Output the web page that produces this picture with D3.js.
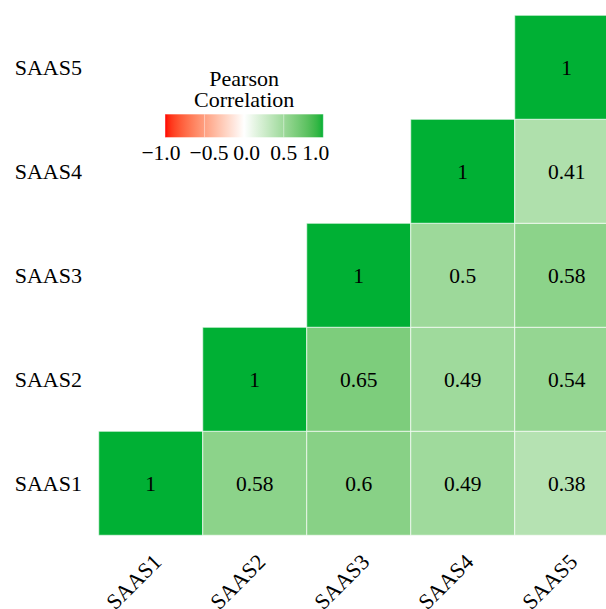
<!DOCTYPE html>
<html>
<head>
<meta charset="utf-8">
<script src="https://cdn.jsdelivr.net/npm/d3@7"></script>
</head>
<body style="margin:0">
<svg id="chart" width="606" height="609" font-family="Liberation Serif"></svg>
<script>
// ---- data ----
const variables = ["SAAS1", "SAAS2", "SAAS3", "SAAS4", "SAAS5"];
// lower-triangle correlations: each row lists values for columns SAAS1..SAAS5 (null = not shown)
const rowSAAS1 = [1, 0.58, 0.6, 0.49, 0.38];
const rowSAAS2 = [null, 1, 0.65, 0.49, 0.54];
const rowSAAS3 = [null, null, 1, 0.5, 0.58];
const rowSAAS4 = [null, null, null, 1, 0.41];
const rowSAAS5 = [null, null, null, null, 1];
const legendTicks = [-1.0, -0.5, 0.0, 0.5, 1.0];
const legendTitle = ["Pearson", "Correlation"];

const rows = [rowSAAS1, rowSAAS2, rowSAAS3, rowSAAS4, rowSAAS5];
const cells = [];
rows.forEach((r, i) => r.forEach((v, j) => {
  if (v !== null) cells.push({ row: variables[i], col: variables[j], value: v });
}));

// ---- scales ----
const svg = d3.select("#chart");
const x = d3.scaleBand().domain(variables).range([98.7, 618.7]);
const y = d3.scaleBand().domain(variables.slice().reverse()).range([15.3, 535.3]);
const color = d3.scaleLinear()
  .domain([-1, 0, 1])
  .range(["#ff0000", "#ffffff", "#00b034"])
  .interpolate(d3.interpolateLab);

// ---- cells ----
svg.append("g").selectAll("rect").data(cells).join("rect")
  .attr("x", d => x(d.col))
  .attr("y", d => y(d.row))
  .attr("width", x.bandwidth())
  .attr("height", y.bandwidth())
  .attr("fill", d => color(d.value))
  .attr("stroke", "#ffffff")
  .attr("stroke-opacity", 0.55)
  .attr("stroke-width", 1.2);

svg.append("g").selectAll("text").data(cells).join("text")
  .style("font-family", "'Liberation Serif'")
  .attr("font-size", 21.5)
  .attr("x", d => x(d.col) + x.bandwidth() / 2)
  .attr("y", d => y(d.row) + y.bandwidth() / 2 + 7.5)
  .attr("text-anchor", "middle")
  .attr("fill", "#000")
  .text(d => String(d.value));

// ---- axes ----
const yAxis = svg.append("g").attr("transform", "translate(86,0)")
  .call(d3.axisLeft(y).tickSize(0).tickPadding(4));
yAxis.attr("font-family", "Liberation Serif");
yAxis.select(".domain").remove();
yAxis.selectAll("text")
  .style("font-family", "'Liberation Serif'")
  .attr("font-size", 22).attr("fill", "#000")
  .attr("dy", null).attr("y", 7.3);

const xAxis = svg.append("g").attr("transform", "translate(0,535.3)")
  .call(d3.axisBottom(x).tickSize(0));
xAxis.attr("font-family", "Liberation Serif");
xAxis.select(".domain").remove();
xAxis.selectAll("text")
  .style("font-family", "'Liberation Serif'")
  .attr("font-size", 22).attr("fill", "#000")
  .attr("text-anchor", "end")
  .attr("dy", null).attr("y", null)
  .attr("transform", "translate(12,28) rotate(-45)");

// ---- legend ----
const lgX0 = 165, lgX1 = 323.3, lgY = 114.3, lgH = 23;
const lx = d3.scaleLinear().domain([-1, 1]).range([lgX0, lgX1]);
const labelShift = [-4, 4.5, 2.5, 0, -7.5];
const defs = svg.append("defs");
const grad = defs.append("linearGradient").attr("id", "lg").attr("x1", "0%").attr("x2", "100%");
d3.range(0, 1.0001, 0.02).forEach(t => {
  grad.append("stop").attr("offset", (t * 100) + "%").attr("stop-color", color(-1 + 2 * t));
});
const lg = svg.append("g");
lg.append("rect").attr("x", lgX0).attr("y", lgY).attr("width", lgX1 - lgX0).attr("height", lgH)
  .attr("fill", "url(#lg)");
lg.selectAll("line.tk").data(legendTicks).join("line")
  .attr("class", "tk")
  .attr("x1", d => lx(d)).attr("x2", d => lx(d))
  .attr("y1", lgY).attr("y2", lgY + lgH)
  .attr("stroke", "#ffffff").attr("stroke-opacity", 0.45).attr("stroke-width", 1);
lg.selectAll("text.lb").data(legendTicks).join("text")
  .attr("class", "lb")
  .style("font-family", "'Liberation Serif'")
  .attr("font-size", 21.5)
  .attr("x", (d, i) => lx(d) + labelShift[i])
  .attr("y", 159.5)
  .attr("text-anchor", "middle")
  .attr("fill", "#000")
  .text(d => d3.format(".1f")(d).replace("-", "\u2212"));
lg.selectAll("text.tt").data(legendTitle).join("text")
  .attr("class", "tt")
  .style("font-family", "'Liberation Serif'")
  .attr("font-size", 22)
  .attr("x", (lgX0 + lgX1) / 2)
  .attr("y", (d, i) => 86 + i * 20.7)
  .attr("text-anchor", "middle")
  .attr("fill", "#000")
  .text(d => d);
</script>
</body>
</html>
